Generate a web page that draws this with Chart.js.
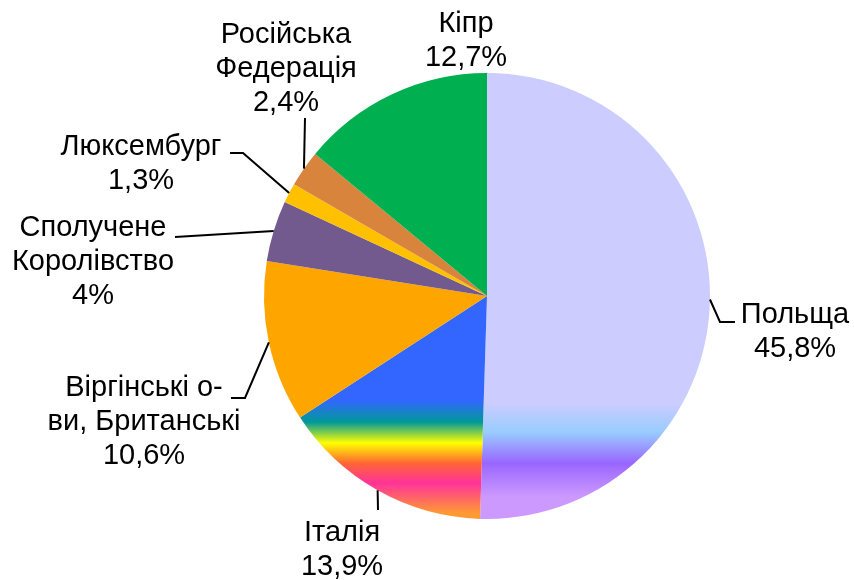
<!DOCTYPE html>
<html>
<head>
<meta charset="utf-8">
<script src="https://cdn.jsdelivr.net/npm/chart.js@4.4.1/dist/chart.umd.min.js"></script>
<style>
  html, body { margin: 0; padding: 0; background: #fff; }
  #wrap { width: 854px; height: 580px; }
</style>
</head>
<body>
<div id="wrap"><canvas id="pieChart" width="854" height="580"></canvas></div>
<script>
// Країни (за годинниковою стрілкою від верху)
const countries = ["Польща", "Італія", "Віргінські о-ви, Британські", "Сполучене Королівство", "Люксембург", "Російська Федерація", "Кіпр"];
// Частки, %
const shares = [45.8, 13.9, 10.6, 4, 1.3, 2.4, 12.7];
// Рядки підписів
const labelLines = [
  ["Польща"],
  ["Італія"],
  ["Віргінські о-", "ви, Британські"],
  ["Сполучене", "Королівство"],
  ["Люксембург"],
  ["Російська", "Федерація"],
  ["Кіпр"]
];
const flatColors = [null, null, "#ffa500", "#725a8e", "#ffc000", "#d9843c", "#00b050"];

// розташування підписів відносно центру круга: [dx, dy першого рядка]
const labelOffset = [[308, 19], [-145, 237], [-343, 92], [-394, -68], [-346, -149], [-201, -261], [-21, -272]];
// лінії-виноски: кінцева точка відносно центру і горизонтальний "хвіст"
const leaderEnd = [[233, 26, 15], [-109, 214, 0], [-242, 102, -14], [-312, -59, 0], [-244, -143, -13], [-182, -178, 0], null];

const FONT = "29px 'Liberation Sans', Arial, sans-serif";
const LINE_H = 34;

function sliceColor(c) {
  const i = c.dataIndex;
  if (flatColors[i]) return flatColors[i];
  const area = c.chart.chartArea;
  if (!area) return i === 0 ? "#ccccff" : "#3366ff";
  const cy = (area.top + area.bottom) / 2;
  const r = Math.min(area.right - area.left, area.bottom - area.top) / 2;
  const g = c.chart.ctx.createLinearGradient(0, cy, 0, cy + r);
  if (i === 0) {
    g.addColorStop(0.48, "#ccccff");
    g.addColorStop(0.61, "#99ccff");
    g.addColorStop(0.75, "#9966ff");
    g.addColorStop(0.90, "#cc99ff");
    g.addColorStop(1, "#cc99ff");
  } else {
    g.addColorStop(0.466, "#3366ff");
    g.addColorStop(0.565, "#009999");
    g.addColorStop(0.659, "#ffff00");
    g.addColorStop(0.749, "#ff6633");
    g.addColorStop(0.839, "#ff3399");
    g.addColorStop(0.973, "#ff9933");
    g.addColorStop(1, "#ff9933");
  }
  return g;
}

// підписи з виносками
const outsideLabels = {
  id: "outsideLabels",
  afterDatasetsDraw(chart) {
    const ctx = chart.ctx;
    const arcs = chart.getDatasetMeta(0).data;
    ctx.save();
    ctx.font = FONT;
    ctx.fillStyle = "#000";
    ctx.strokeStyle = "#000";
    ctx.lineWidth = 2;
    ctx.textAlign = "center";
    ctx.textBaseline = "middle";
    arcs.forEach((arc, i) => {
      const cx = arc.x, cy = arc.y;
      const mid = (arc.startAngle + arc.endAngle) / 2;
      const px = cx + Math.cos(mid) * arc.outerRadius;
      const py = cy + Math.sin(mid) * arc.outerRadius;
      const le = leaderEnd[i];
      if (le) {
        ctx.beginPath();
        ctx.moveTo(px, py);
        ctx.lineTo(cx + le[0], cy + le[1]);
        if (le[2]) ctx.lineTo(cx + le[0] + le[2], cy + le[1]);
        ctx.stroke();
      }
      const lines = labelLines[i].concat([String(shares[i]).replace(".", ",") + "%"]);
      const lx = cx + labelOffset[i][0];
      let ly = cy + labelOffset[i][1];
      lines.forEach(t => {
        ctx.fillText(t, lx, ly);
        ly += LINE_H;
      });
    });
    ctx.restore();
  }
};

let ctx = document.getElementById("pieChart").getContext("2d");
const pieChart = new Chart(ctx, {
  type: "pie",
  data: {
    labels: countries,
    datasets: [{
      data: shares,
      backgroundColor: sliceColor,
      borderWidth: 0,
      hoverOffset: 0
    }]
  },
  options: {
    responsive: false,
    animation: false,
    events: [],
    layout: { padding: { left: 264, right: 144, top: 73, bottom: 61 } },
    plugins: {
      legend: { display: false },
      tooltip: { enabled: false }
    }
  },
  plugins: [outsideLabels]
});
</script>
</body>
</html>
